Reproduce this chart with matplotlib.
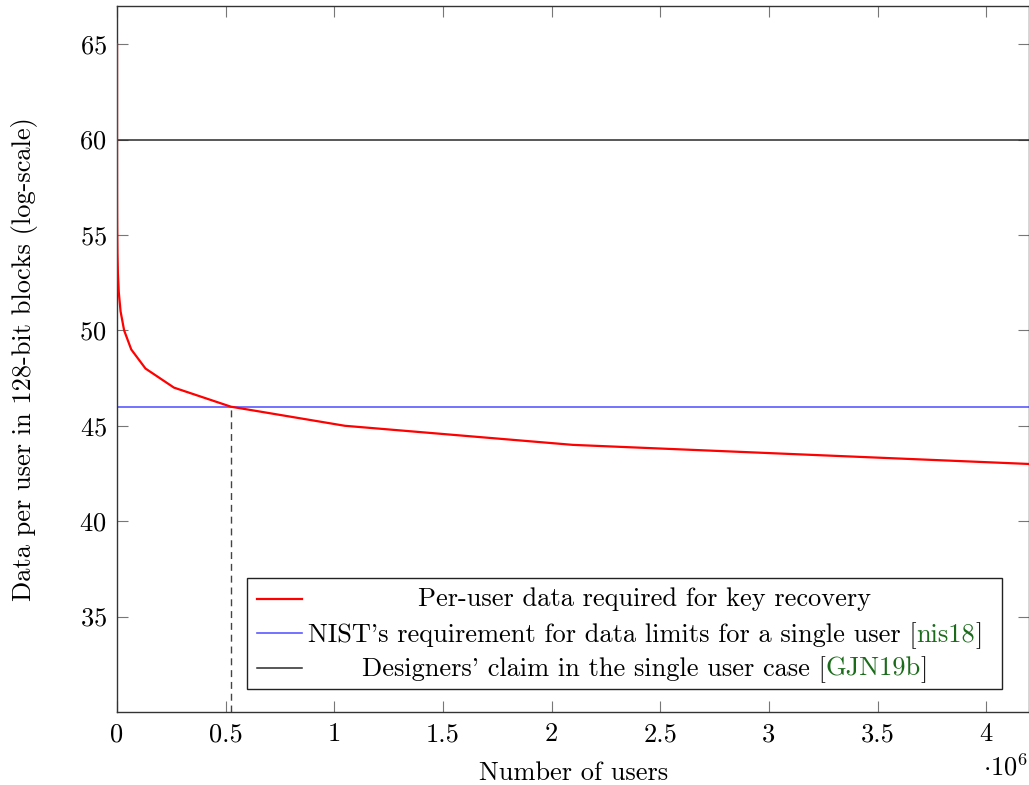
import matplotlib
matplotlib.use("Agg")
import matplotlib.pyplot as plt
from matplotlib.lines import Line2D
from matplotlib.patches import Rectangle
from matplotlib.transforms import offset_copy

plt.rcParams['font.family'] = ['cmr10', 'DejaVu Serif']
plt.rcParams['mathtext.fontset'] = 'cm'
plt.rcParams['axes.formatter.use_mathtext'] = True
plt.rcParams['axes.unicode_minus'] = False

# number of users (powers of two) and log2 of per-user data
users = [1, 2, 4, 8, 16, 32, 64, 128, 256, 512, 1024, 2048, 4096, 8192,
         16384, 32768, 65536, 131072, 262144, 524288, 1048576, 2097152,
         4194304]
data_log = [65, 64, 63, 62, 61, 60, 59, 58, 57, 56, 55, 54, 53, 52,
            51, 50, 49, 48, 47, 46, 45, 44, 43]
nist_limit = 46
designer_claim = 60
crossing_users = 524288

xticks = [0, 0.5e6, 1e6, 1.5e6, 2e6, 2.5e6, 3e6, 3.5e6, 4e6]
xticklabels = ['0', '0.5', '1', '1.5', '2', '2.5', '3', '3.5', '4']
yticks = [35, 40, 45, 50, 55, 60, 65]

BLUE = '#5a5aff'
BLACK = '#2a2a2a'
GREEN = '#1a6b1a'

FS = 19
W, H = 1029, 785
fig = plt.figure(figsize=(W / 100, H / 100), dpi=100)
L, R, T, B = 117, 1028.5, 6, 712
ax = fig.add_axes([L / W, 1 - B / H, (R - L) / W, (B - T) / H])


def ax_xy(px, py):
    # figure pixel -> axes fraction (for legend placement)
    return (px - L) / (R - L), (B - py) / (B - T)


ax.plot(users, data_log, color='red', lw=1.6, zorder=3)
ax.axhline(nist_limit, color=BLUE, lw=1.2, zorder=2)
ax.axhline(designer_claim, color=BLACK, lw=1.1, zorder=2)
ax.vlines(crossing_users, 30, nist_limit, colors='#444444', lw=1.0,
          linestyles=(0, (5, 3.5)), zorder=2)

ax.set_xlim(0, users[-1])
ax.set_ylim(30, 67)
ax.set_xticks(xticks)
ax.set_xticklabels(xticklabels)
ax.set_yticks(yticks)

for s in ax.spines.values():
    s.set_color('#333333')
    s.set_linewidth(1.0)
ax.tick_params(direction='in', length=8, width=0.8, color='#777777',
               top=True, right=True, labelsize=FS, pad=7.5)

ax.set_xlabel('Number of users', fontsize=FS, va='top')
ax.xaxis.set_label_coords(0.5005, ax_xy(0, 761)[1])
ax.set_ylabel('Data per user in 128-bit blocks (log-scale)', fontsize=FS)
ax.yaxis.set_label_coords(ax_xy(38, 0)[0], 0.5)

ax.text(1.0, ax_xy(0, 775)[1], r'$\cdot10^{6}$', transform=ax.transAxes,
        ha='right', va='baseline', fontsize=FS)

# legend drawn by hand so the labels can be centred like pgfplots
x0, y0 = ax_xy(247.3, 689.3)
x1, y1 = ax_xy(1001.7, 578.3)
ax.add_patch(Rectangle((x0, y0), x1 - x0, y1 - y0, transform=ax.transAxes,
                       fill=True, facecolor='white', edgecolor='#222222',
                       lw=1.0, zorder=5))

entries = [
    ('red', 1.6, [("Per-user data required for key recovery", 'black')]),
    (BLUE, 1.2, [("NIST's requirement for data limits for a single user [", 'black'),
                 ("nis18", GREEN), ("]", 'black')]),
    (BLACK, 1.1, [("Designers' claim in the single user case [", 'black'),
                  ("GJN19b", GREEN), ("]", 'black')]),
]
handle_y = [599.3, 633.3, 668.3]
base_y = [606, 641.7, 676]
center_px = 645

renderer = fig.canvas.get_renderer()


def text_width(s):
    t = fig.text(0, 0, s, fontsize=FS)
    w = t.get_window_extent(renderer).width
    t.remove()
    return w


for (col, lw, pieces), hy, by in zip(entries, handle_y, base_y):
    hx0, hyy = ax_xy(256.7, hy)
    hx1, _ = ax_xy(301.7, hy)
    ax.add_line(Line2D([hx0, hx1], [hyy, hyy], color=col, lw=lw,
                       transform=ax.transAxes, zorder=6))
    full = ''.join(p[0] for p in pieces)
    total = text_width(full)
    cx, cy = ax_xy(center_px, by)
    prefix = ''
    for s, c in pieces:
        dx = (text_width(prefix) if prefix else 0) - total / 2
        tr = offset_copy(ax.transAxes, fig=fig, x=dx, y=0, units='dots')
        ax.text(cx, cy, s, transform=tr, ha='left', va='baseline',
                fontsize=FS, color=c, zorder=7)
        prefix += s

fig.savefig('out.png', dpi=100)
